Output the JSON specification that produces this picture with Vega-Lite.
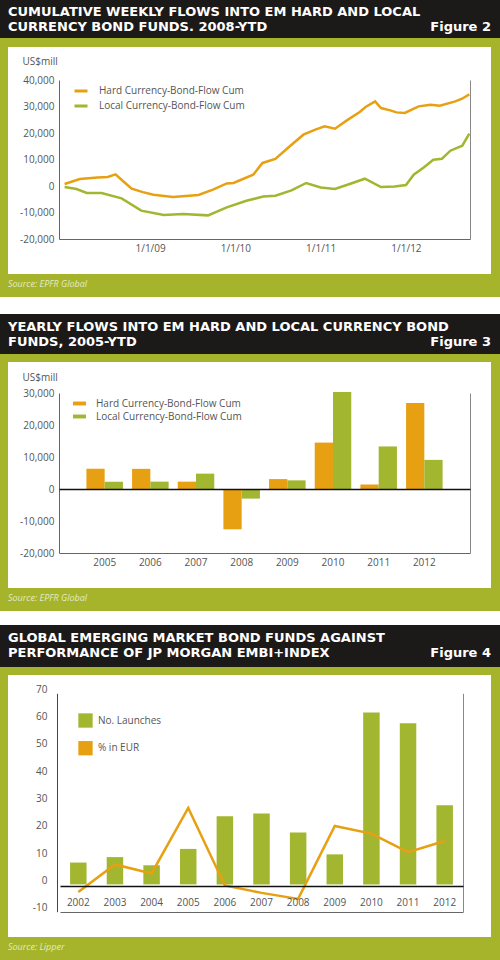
{
  "$schema": "https://vega.github.io/schema/vega-lite/v6.json",
  "background": "#a5b42b",
  "padding": 0,
  "spacing": 0,
  "resolve": {"scale": {"color": "independent"}, "legend": {"color": "independent"}},
  "config": {"view": {"stroke": null}, "font": "Open Sans", "concat": {"spacing": 0}},
  "datasets": {
    "empty": [],
    "flows": [
      {"date": "2008-01-01", "series": "Hard Currency-Bond-Flow Cum", "value": 750},
      {"date": "2008-03-06", "series": "Hard Currency-Bond-Flow Cum", "value": 2640},
      {"date": "2008-05-21", "series": "Hard Currency-Bond-Flow Cum", "value": 3250},
      {"date": "2008-07-04", "series": "Hard Currency-Bond-Flow Cum", "value": 3400},
      {"date": "2008-08-06", "series": "Hard Currency-Bond-Flow Cum", "value": 4380},
      {"date": "2008-09-10", "series": "Hard Currency-Bond-Flow Cum", "value": 1600},
      {"date": "2008-10-14", "series": "Hard Currency-Bond-Flow Cum", "value": -1020},
      {"date": "2008-12-01", "series": "Hard Currency-Bond-Flow Cum", "value": -2300},
      {"date": "2009-01-15", "series": "Hard Currency-Bond-Flow Cum", "value": -3280},
      {"date": "2009-04-09", "series": "Hard Currency-Bond-Flow Cum", "value": -4150},
      {"date": "2009-07-27", "series": "Hard Currency-Bond-Flow Cum", "value": -3400},
      {"date": "2009-09-27", "series": "Hard Currency-Bond-Flow Cum", "value": -1400},
      {"date": "2009-11-25", "series": "Hard Currency-Bond-Flow Cum", "value": 980},
      {"date": "2009-12-24", "series": "Hard Currency-Bond-Flow Cum", "value": 1130},
      {"date": "2010-03-18", "series": "Hard Currency-Bond-Flow Cum", "value": 4260},
      {"date": "2010-04-27", "series": "Hard Currency-Bond-Flow Cum", "value": 8700},
      {"date": "2010-06-21", "series": "Hard Currency-Bond-Flow Cum", "value": 10190},
      {"date": "2010-08-18", "series": "Hard Currency-Bond-Flow Cum", "value": 14720},
      {"date": "2010-10-19", "series": "Hard Currency-Bond-Flow Cum", "value": 19360},
      {"date": "2010-12-09", "series": "Hard Currency-Bond-Flow Cum", "value": 21250},
      {"date": "2011-01-18", "series": "Hard Currency-Bond-Flow Cum", "value": 22500},
      {"date": "2011-03-03", "series": "Hard Currency-Bond-Flow Cum", "value": 21620},
      {"date": "2011-04-23", "series": "Hard Currency-Bond-Flow Cum", "value": 24760},
      {"date": "2011-06-17", "series": "Hard Currency-Bond-Flow Cum", "value": 27920},
      {"date": "2011-07-12", "series": "Hard Currency-Bond-Flow Cum", "value": 29810},
      {"date": "2011-08-22", "series": "Hard Currency-Bond-Flow Cum", "value": 31930},
      {"date": "2011-09-16", "series": "Hard Currency-Bond-Flow Cum", "value": 29430},
      {"date": "2011-10-26", "series": "Hard Currency-Bond-Flow Cum", "value": 28530},
      {"date": "2011-11-21", "series": "Hard Currency-Bond-Flow Cum", "value": 27780},
      {"date": "2011-12-27", "series": "Hard Currency-Bond-Flow Cum", "value": 27550},
      {"date": "2012-02-24", "series": "Hard Currency-Bond-Flow Cum", "value": 30060},
      {"date": "2012-04-15", "series": "Hard Currency-Bond-Flow Cum", "value": 30680},
      {"date": "2012-05-25", "series": "Hard Currency-Bond-Flow Cum", "value": 30300},
      {"date": "2012-07-30", "series": "Hard Currency-Bond-Flow Cum", "value": 31930},
      {"date": "2012-08-28", "series": "Hard Currency-Bond-Flow Cum", "value": 32940},
      {"date": "2012-09-28", "series": "Hard Currency-Bond-Flow Cum", "value": 34570},
      {"date": "2008-01-01", "series": "Local Currency-Bond-Flow Cum", "value": -380},
      {"date": "2008-02-21", "series": "Local Currency-Bond-Flow Cum", "value": -1130},
      {"date": "2008-04-05", "series": "Local Currency-Bond-Flow Cum", "value": -2640},
      {"date": "2008-06-07", "series": "Local Currency-Bond-Flow Cum", "value": -2640},
      {"date": "2008-09-01", "series": "Local Currency-Bond-Flow Cum", "value": -4670},
      {"date": "2008-11-24", "series": "Local Currency-Bond-Flow Cum", "value": -9300},
      {"date": "2009-02-28", "series": "Local Currency-Bond-Flow Cum", "value": -10950},
      {"date": "2009-05-23", "series": "Local Currency-Bond-Flow Cum", "value": -10570},
      {"date": "2009-09-06", "series": "Local Currency-Bond-Flow Cum", "value": -11080},
      {"date": "2009-11-25", "series": "Local Currency-Bond-Flow Cum", "value": -8070},
      {"date": "2010-02-17", "series": "Local Currency-Bond-Flow Cum", "value": -5550},
      {"date": "2010-04-30", "series": "Local Currency-Bond-Flow Cum", "value": -4000},
      {"date": "2010-06-21", "series": "Local Currency-Bond-Flow Cum", "value": -3660},
      {"date": "2010-08-29", "series": "Local Currency-Bond-Flow Cum", "value": -1660},
      {"date": "2010-10-31", "series": "Local Currency-Bond-Flow Cum", "value": 1130},
      {"date": "2011-01-01", "series": "Local Currency-Bond-Flow Cum", "value": -530},
      {"date": "2011-03-03", "series": "Local Currency-Bond-Flow Cum", "value": -1130},
      {"date": "2011-05-08", "series": "Local Currency-Bond-Flow Cum", "value": 870},
      {"date": "2011-07-09", "series": "Local Currency-Bond-Flow Cum", "value": 2750},
      {"date": "2011-09-16", "series": "Local Currency-Bond-Flow Cum", "value": -380},
      {"date": "2011-11-14", "series": "Local Currency-Bond-Flow Cum", "value": -150},
      {"date": "2012-01-01", "series": "Local Currency-Bond-Flow Cum", "value": 380},
      {"date": "2012-02-03", "series": "Local Currency-Bond-Flow Cum", "value": 4260},
      {"date": "2012-03-17", "series": "Local Currency-Bond-Flow Cum", "value": 7020},
      {"date": "2012-04-27", "series": "Local Currency-Bond-Flow Cum", "value": 9920},
      {"date": "2012-06-03", "series": "Local Currency-Bond-Flow Cum", "value": 10300},
      {"date": "2012-07-09", "series": "Local Currency-Bond-Flow Cum", "value": 13320},
      {"date": "2012-08-29", "series": "Local Currency-Bond-Flow Cum", "value": 15210},
      {"date": "2012-09-28", "series": "Local Currency-Bond-Flow Cum", "value": 19740}
    ],
    "yearly": [
      {"year": "2005", "series": "Hard Currency-Bond-Flow Cum", "value": 6300},
      {"year": "2006", "series": "Hard Currency-Bond-Flow Cum", "value": 6300},
      {"year": "2007", "series": "Hard Currency-Bond-Flow Cum", "value": 2300},
      {"year": "2008", "series": "Hard Currency-Bond-Flow Cum", "value": -12600},
      {"year": "2009", "series": "Hard Currency-Bond-Flow Cum", "value": 3100},
      {"year": "2010", "series": "Hard Currency-Bond-Flow Cum", "value": 14500},
      {"year": "2011", "series": "Hard Currency-Bond-Flow Cum", "value": 1400},
      {"year": "2012", "series": "Hard Currency-Bond-Flow Cum", "value": 26900},
      {"year": "2005", "series": "Local Currency-Bond-Flow Cum", "value": 2300},
      {"year": "2006", "series": "Local Currency-Bond-Flow Cum", "value": 2300},
      {"year": "2007", "series": "Local Currency-Bond-Flow Cum", "value": 4800},
      {"year": "2008", "series": "Local Currency-Bond-Flow Cum", "value": -3000},
      {"year": "2009", "series": "Local Currency-Bond-Flow Cum", "value": 2700},
      {"year": "2010", "series": "Local Currency-Bond-Flow Cum", "value": 30300},
      {"year": "2011", "series": "Local Currency-Bond-Flow Cum", "value": 13300},
      {"year": "2012", "series": "Local Currency-Bond-Flow Cum", "value": 9100}
    ],
    "launches": [
      {"year": "2002", "launches": 8, "pct": -2.8},
      {"year": "2003", "launches": 10, "pct": 7.3},
      {"year": "2004", "launches": 7, "pct": 4.0},
      {"year": "2005", "launches": 13, "pct": 28.0},
      {"year": "2006", "launches": 25, "pct": -0.4},
      {"year": "2007", "launches": 26, "pct": -3.1},
      {"year": "2008", "launches": 19, "pct": -5.3},
      {"year": "2009", "launches": 11, "pct": 21.4},
      {"year": "2010", "launches": 63, "pct": 18.6},
      {"year": "2011", "launches": 59, "pct": 11.8},
      {"year": "2012", "launches": 29, "pct": 15.9}
    ]
  },
  "vconcat": [
    {
      "spacing": 0, "bounds": "flush",
      "hconcat": [
        {"width": 499, "height": 38, "view": {"fill": "#1c1a19", "stroke": null}, "data": {"name": "empty"}, "mark": "point",
         "title": {"text": ["CUMULATIVE WEEKLY FLOWS INTO EM HARD AND LOCAL", "CURRENCY BOND FUNDS. 2008-YTD"], "orient": "top", "anchor": "start", "frame": "group", "offset": -34, "dx": 8, "font": "DejaVu Sans", "fontSize": 13, "fontWeight": "bold", "color": "#ffffff", "lineHeight": 15}},
        {"width": 1, "height": 38, "view": {"fill": "#1c1a19", "stroke": null}, "data": {"name": "empty"}, "mark": "point",
         "title": {"text": "Figure 2", "orient": "top", "anchor": "end", "frame": "group", "offset": -34, "dx": -9, "font": "DejaVu Sans", "fontSize": 13, "fontWeight": "bold", "color": "#ffffff"}}
      ]
    },
    {"width": 500, "height": 9, "view": {"stroke": null}, "data": {"name": "empty"}, "mark": "point"},
    {
      "spacing": 0,
      "hconcat": [
        {"width": 8, "height": 227, "view": {"stroke": null}, "data": {"name": "empty"}, "mark": "point"},
        {
          "width": 483, "height": 227,
          "view": {"fill": "#ffffff", "stroke": null},
          "data": {"name": "flows"},
          "encoding": {
            "x": {"field": "date", "type": "temporal",
              "scale": {"domain": ["2007-12-08", "2012-10-01"], "range": [51, 462]},
              "axis": {"values": [{"year": 2009, "month": 1, "date": 1}, {"year": 2010, "month": 1, "date": 1}, {"year": 2011, "month": 1, "date": 1}, {"year": 2012, "month": 1, "date": 1}],
                "format": "%-m/%-d/%y", "ticks": false, "grid": false, "title": null, "offset": -35,
                "domainColor": "#666666", "labelColor": "#555555", "labelFontSize": 10, "labelPadding": 4, "labelFlush": false}},
            "color": {"field": "series", "type": "nominal",
              "scale": {"domain": ["Hard Currency-Bond-Flow Cum", "Local Currency-Bond-Flow Cum"], "range": ["#e8a013", "#a2b630"]},
              "legend": {"orient": "none", "legendX": 73, "legendY": 36, "title": null, "symbolType": "stroke", "symbolSize": 169, "symbolStrokeWidth": 3, "labelFontSize": 10, "labelColor": "#555555", "labelOffset": 10, "rowPadding": 1}}
          },
          "layer": [
            {"transform": [{"filter": "datum.series === 'Hard Currency-Bond-Flow Cum'"}],
             "mark": {"type": "line", "strokeWidth": 2.5},
             "encoding": {"y": {"field": "value", "type": "quantitative",
               "scale": {"domain": [-20000, 40000], "range": [192, 33], "nice": false, "zero": false},
               "axis": {"values": [-20000, -10000, 0, 10000, 20000, 30000, 40000], "labelExpr": "(datum.value < 0 ? '-' : '') + format(abs(datum.value), ',')",
                 "ticks": false, "grid": false, "offset": -51, "domainColor": "#666666", "labelColor": "#555555", "labelFontSize": 10, "labelPadding": 5,
                 "title": "US$mill", "titleAngle": 0, "titleAlign": "left", "titleBaseline": "middle", "titleX": -37, "titleY": 14, "titleFontWeight": "normal", "titleFontSize": 10, "titleColor": "#555555"}}}},
            {"transform": [{"filter": "datum.series === 'Local Currency-Bond-Flow Cum'"}],
             "mark": {"type": "line", "strokeWidth": 2.5},
             "encoding": {"y": {"field": "value", "type": "quantitative",
               "scale": {"domain": [-20000, 40000], "range": [192, 33], "nice": false, "zero": false},
               "axis": {"orient": "right", "labels": false, "ticks": false, "grid": false, "title": null, "offset": -21, "domainColor": "#888888"}}}}
          ],
          "resolve": {"axis": {"y": "independent"}}
        }
      ]
    },
    {"width": 500, "height": 23, "view": {"stroke": null}, "data": {"name": "empty"}, "mark": "point",
     "title": {"text": "Source: EPFR Global", "orient": "top", "anchor": "start", "frame": "group", "offset": -15, "dx": 8, "fontSize": 9, "fontStyle": "italic", "fontWeight": "normal", "color": "#e6eac6"}},
    {"width": 500, "height": 17, "view": {"fill": "#ffffff", "stroke": null}, "data": {"name": "empty"}, "mark": "point"},
    {
      "spacing": 0, "bounds": "flush",
      "hconcat": [
        {"width": 499, "height": 40, "view": {"fill": "#1c1a19", "stroke": null}, "data": {"name": "empty"}, "mark": "point",
         "title": {"text": ["YEARLY FLOWS INTO EM HARD AND LOCAL CURRENCY BOND", "FUNDS, 2005-YTD"], "orient": "top", "anchor": "start", "frame": "group", "offset": -35, "dx": 8, "font": "DejaVu Sans", "fontSize": 13, "fontWeight": "bold", "color": "#ffffff", "lineHeight": 15}},
        {"width": 1, "height": 40, "view": {"fill": "#1c1a19", "stroke": null}, "data": {"name": "empty"}, "mark": "point",
         "title": {"text": "Figure 3", "orient": "top", "anchor": "end", "frame": "group", "offset": -35, "dx": -9, "font": "DejaVu Sans", "fontSize": 13, "fontWeight": "bold", "color": "#ffffff"}}
      ]
    },
    {"width": 500, "height": 8, "view": {"stroke": null}, "data": {"name": "empty"}, "mark": "point"},
    {
      "spacing": 0,
      "hconcat": [
        {"width": 8, "height": 226, "view": {"stroke": null}, "data": {"name": "empty"}, "mark": "point"},
        {
          "width": 483, "height": 226,
          "view": {"fill": "#ffffff", "stroke": null},
          "data": {"name": "yearly"},
          "encoding": {
            "color": {"field": "series", "type": "nominal",
              "scale": {"domain": ["Hard Currency-Bond-Flow Cum", "Local Currency-Bond-Flow Cum"], "range": ["#e8a013", "#a2b630"]},
              "legend": {"orient": "none", "legendX": 73, "legendY": 35, "title": null, "symbolType": "M-1,-0.3H1V0.3H-1Z", "symbolSize": 169, "symbolStrokeWidth": 0, "labelFontSize": 10, "labelColor": "#555555", "labelOffset": 10, "rowPadding": 1}}
          },
          "layer": [
            {"transform": [{"filter": "datum.series === 'Hard Currency-Bond-Flow Cum'"}],
             "mark": {"type": "bar"},
             "encoding": {
               "x": {"field": "year", "type": "ordinal", "scale": {"range": [51, 462], "paddingInner": 0.2, "paddingOuter": 0.6},
                 "axis": {"orient": "bottom", "ticks": false, "grid": false, "title": null, "offset": -35, "domainColor": "#666666", "labelColor": "#555555", "labelFontSize": 10, "labelPadding": 4, "labelAngle": 0}},
               "xOffset": {"field": "series", "type": "nominal", "scale": {"domain": ["Hard Currency-Bond-Flow Cum", "Local Currency-Bond-Flow Cum"]}},
               "y": {"field": "value", "type": "quantitative",
                 "scale": {"domain": [-20000, 30000], "range": [191, 31], "nice": false, "zero": false},
                 "axis": {"orient": "left", "values": [-20000, -10000, 0, 10000, 20000, 30000], "labelExpr": "(datum.value < 0 ? '-' : '') + format(abs(datum.value), ',')",
                   "ticks": false, "grid": false, "offset": -51, "domainColor": "#666666", "labelColor": "#555555", "labelFontSize": 10, "labelPadding": 5,
                   "title": "US$mill", "titleAngle": 0, "titleAlign": "left", "titleBaseline": "middle", "titleX": -37, "titleY": 15, "titleFontWeight": "normal", "titleFontSize": 10, "titleColor": "#555555"}}}},
            {"transform": [{"filter": "datum.series === 'Local Currency-Bond-Flow Cum'"}],
             "mark": {"type": "bar"},
             "encoding": {
               "x": {"field": "year", "type": "ordinal", "scale": {"range": [51, 462], "paddingInner": 0.2, "paddingOuter": 0.6},
                 "axis": {"orient": "bottom", "labels": false, "ticks": false, "grid": false, "title": null, "offset": -99, "domainColor": "#111111", "domainWidth": 1.5, "zindex": 1}},
               "xOffset": {"field": "series", "type": "nominal", "scale": {"domain": ["Hard Currency-Bond-Flow Cum", "Local Currency-Bond-Flow Cum"]}},
               "y": {"field": "value", "type": "quantitative",
                 "scale": {"domain": [-20000, 30000], "range": [191, 31], "nice": false, "zero": false},
                 "axis": {"orient": "right", "labels": false, "ticks": false, "grid": false, "title": null, "offset": -21, "domainColor": "#888888"}}}}
          ],
          "resolve": {"axis": {"x": "independent", "y": "independent"}}
        }
      ]
    },
    {"width": 500, "height": 23, "view": {"stroke": null}, "data": {"name": "empty"}, "mark": "point",
     "title": {"text": "Source: EPFR Global", "orient": "top", "anchor": "start", "frame": "group", "offset": -15, "dx": 8, "fontSize": 9, "fontStyle": "italic", "fontWeight": "normal", "color": "#e6eac6"}},
    {"width": 500, "height": 14, "view": {"fill": "#ffffff", "stroke": null}, "data": {"name": "empty"}, "mark": "point"},
    {
      "spacing": 0, "bounds": "flush",
      "hconcat": [
        {"width": 499, "height": 42, "view": {"fill": "#1c1a19", "stroke": null}, "data": {"name": "empty"}, "mark": "point",
         "title": {"text": ["GLOBAL EMERGING MARKET BOND FUNDS AGAINST", "PERFORMANCE OF JP MORGAN EMBI+INDEX"], "orient": "top", "anchor": "start", "frame": "group", "offset": -35, "dx": 8, "font": "DejaVu Sans", "fontSize": 13, "fontWeight": "bold", "color": "#ffffff", "lineHeight": 15}},
        {"width": 1, "height": 42, "view": {"fill": "#1c1a19", "stroke": null}, "data": {"name": "empty"}, "mark": "point",
         "title": {"text": "Figure 4", "orient": "top", "anchor": "end", "frame": "group", "offset": -35, "dx": -9, "font": "DejaVu Sans", "fontSize": 13, "fontWeight": "bold", "color": "#ffffff"}}
      ]
    },
    {"width": 500, "height": 8, "view": {"stroke": null}, "data": {"name": "empty"}, "mark": "point"},
    {
      "spacing": 0,
      "hconcat": [
        {"width": 8, "height": 262, "view": {"stroke": null}, "data": {"name": "empty"}, "mark": "point"},
        {
          "width": 483, "height": 262,
          "view": {"fill": "#ffffff", "stroke": null},
          "data": {"name": "launches"},
          "layer": [
            {"mark": {"type": "bar"},
             "encoding": {
               "x": {"field": "year", "type": "ordinal", "scale": {"range": [52, 455], "paddingInner": 0.55, "paddingOuter": 0.275},
                 "axis": {"orient": "bottom", "ticks": false, "grid": false, "title": null, "offset": -51, "domainColor": "#111111", "domainWidth": 1.5, "zindex": 1, "labelColor": "#555555", "labelFontSize": 10, "labelPadding": 11, "labelAngle": 0}},
               "y": {"field": "launches", "type": "quantitative",
                 "scale": {"domain": [-10, 70], "range": [236.7, 18.3], "nice": false, "zero": false},
                 "axis": {"orient": "left", "values": [-10, 0, 10, 20, 30, 40, 50, 60, 70], "labelExpr": "(datum.value < 0 ? '-' : '') + format(abs(datum.value), ',')",
                   "ticks": false, "grid": false, "offset": -49, "domainColor": "#444444", "labelColor": "#555555", "labelFontSize": 10, "labelPadding": 10, "labelOffset": -4, "title": null}},
               "color": {"datum": "No. Launches", "type": "nominal",
                 "scale": {"domain": ["No. Launches", "% in EUR"], "range": ["#a2b630", "#e8a013"]},
                 "legend": {"orient": "none", "legendX": 78, "legendY": 38, "title": null, "symbolType": "square", "symbolSize": 205, "symbolStrokeWidth": 0, "labelFontSize": 10, "labelColor": "#555555", "labelOffset": 5, "rowPadding": 12.7}}}},
            {"mark": {"type": "line", "strokeWidth": 2.5},
             "encoding": {
               "x": {"field": "year", "type": "ordinal", "scale": {"range": [52, 455], "paddingInner": 0.55, "paddingOuter": 0.275},
                 "axis": {"orient": "bottom", "labels": false, "ticks": false, "grid": false, "title": null, "offset": -25, "domainColor": "#666666"}},
               "y": {"field": "pct", "type": "quantitative",
                 "scale": {"domain": [-10, 70], "range": [236.7, 18.3], "nice": false, "zero": false},
                 "axis": {"orient": "right", "labels": false, "ticks": false, "grid": false, "title": null, "offset": -28, "domainColor": "#888888"}},
               "color": {"datum": "% in EUR", "type": "nominal",
                 "scale": {"domain": ["No. Launches", "% in EUR"], "range": ["#a2b630", "#e8a013"]}}}}
          ],
          "resolve": {"axis": {"x": "independent", "y": "independent"}}
        }
      ]
    },
    {"width": 500, "height": 23, "view": {"stroke": null}, "data": {"name": "empty"}, "mark": "point",
     "title": {"text": "Source: Lipper", "orient": "top", "anchor": "start", "frame": "group", "offset": -15, "dx": 8, "fontSize": 9, "fontStyle": "italic", "fontWeight": "normal", "color": "#e6eac6"}}
  ]
}
